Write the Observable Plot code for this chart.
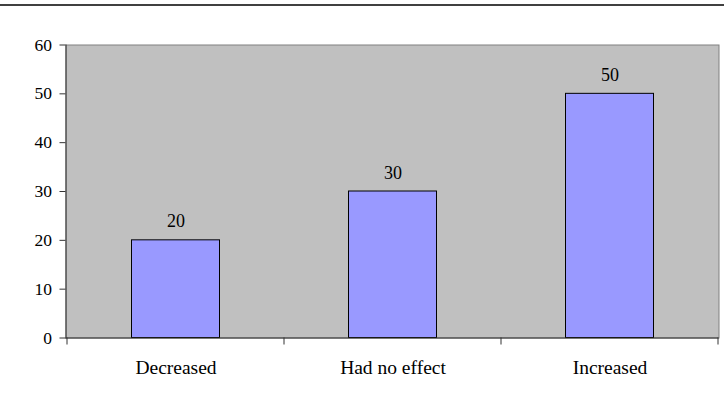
<!DOCTYPE html>
<html>
<head>
<meta charset="utf-8">
<script src="https://cdn.jsdelivr.net/npm/d3@7"></script>
<script src="https://cdn.jsdelivr.net/npm/@observablehq/plot@0.6"></script>
<style>
  html, body { margin: 0; padding: 0; background: #fff; }
  #wrap { position: relative; width: 724px; height: 404px; overflow: hidden; }
  #topline { position: absolute; left: 0; top: 4px; width: 724px; height: 2px; background: #404040; }
  #chart svg { display: block; }
  #chart svg text { font-family: 'Liberation Serif', 'Times New Roman', serif; }
</style>
</head>
<body>
<div id="wrap">
  <div id="topline"></div>
  <div id="chart"></div>
</div>
<script>
const categories = ["Decreased", "Had no effect", "Increased"];
const values = [20, 30, 50];
const yTicks = [0, 10, 20, 30, 40, 50, 60];

const data = categories.map((c, i) => ({category: c, value: values[i]}));

const font = "'Liberation Serif', 'Times New Roman', serif";
const axisColor = "#333333";

function boundaryTicks(index, scales, vals, dims) {
  const x = scales.x, y = scales.y;
  const y0 = y(0);
  const xs = categories.map(c => x(c));
  xs.push(x(categories[categories.length - 1]) + x.bandwidth());
  const g = d3.create("svg:g");
  for (const px of xs) {
    g.append("line")
      .attr("x1", px).attr("x2", px)
      .attr("y1", y0).attr("y2", y0 + 7)
      .attr("stroke", axisColor)
      .attr("stroke-width", 1);
  }
  return g.node();
}

const chart = Plot.plot({
  width: 724,
  height: 404,
  marginLeft: 65.5,
  marginRight: 5.5,
  marginTop: 44.5,
  marginBottom: 66.5,
  style: {fontFamily: font, background: "transparent", color: "#000"},
  x: {type: "band", domain: categories, padding: 0, label: null, axis: null},
  y: {domain: [0, 60], label: null, axis: null},
  marks: [
    Plot.frame({fill: "#C0C0C0", stroke: "#808080"}),
    Plot.barY(data, {
      x: "category", y: "value",
      fill: "#9999FF", stroke: "#000", strokeWidth: 1,
      insetLeft: 64.5, insetRight: 64.5
    }),
    Plot.text(data, {
      x: "category", y: "value", text: d => String(d.value),
      lineAnchor: "bottom", dy: -13, fontSize: 18, fontFamily: font, fill: "#000"
    }),
    Plot.ruleY([0], {stroke: axisColor, strokeWidth: 1}),
    Plot.frame({anchor: "left", stroke: axisColor}),
    boundaryTicks,
    Plot.axisY(yTicks, {tickSize: 6, tickFormat: () => "", stroke: axisColor, label: null}),
    Plot.text(yTicks, {
      y: d => d, text: d => String(d), frameAnchor: "left", textAnchor: "end",
      lineAnchor: "middle", dx: -14, fontSize: 17.5, fontFamily: font, fill: "#000"
    }),
    Plot.axisX(categories, {tickSize: 0, tickPadding: 22, fontSize: 19.5, fontFamily: font, fill: "#000", label: null})
  ]
});

document.getElementById("chart").appendChild(chart);
</script>
</body>
</html>
